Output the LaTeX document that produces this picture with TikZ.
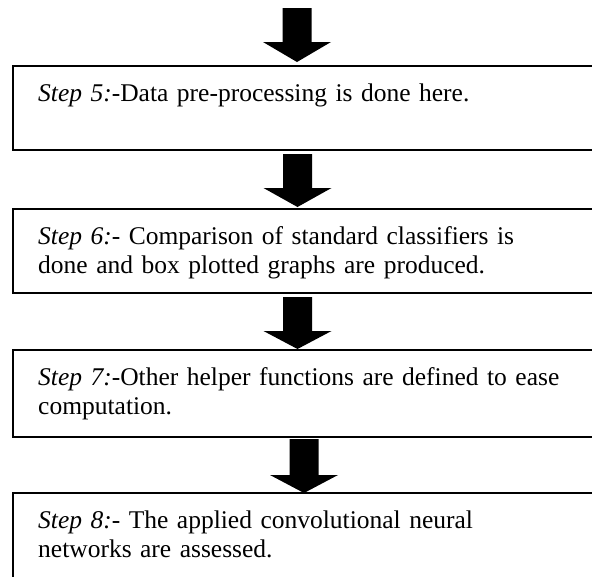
\documentclass[tikz,border=0pt]{standalone}
\usepackage{fontspec}
\setmainfont{Liberation Serif}
\begin{document}
\begin{tikzpicture}[x=1pt,y=-1pt,
  stepbox/.style={draw=black,line width=2.2pt},
  steptext/.style={anchor=base west,inner sep=0pt,text width=545pt,align=left,
    font=\fontsize{25.5}{29}\selectfont},
  blockarrow/.style={fill=black}]
\useasboundingbox (0,0) rectangle (592,576);
\clip (0,0) rectangle (592,576);
% boxes
\draw[stepbox] (13,66) rectangle (620,150) coordinate (b1);
\draw[stepbox] (13,209) rectangle (620,293);
\draw[stepbox] (13,350) rectangle (620,437);
\draw[stepbox] (13,493) rectangle (620,620);
% texts
\node[steptext] (t5) at (38,101) {\textit{Step 5:}-Data pre-processing is done here.};
\node[steptext] (t6) at (38,244) {\textit{Step 6:}- Comparison of standard classifiers is\\done and box plotted graphs are produced.};
\node[steptext] (t7) at (38,385) {\textit{Step 7:}-Other helper functions are defined to ease\\computation.};
\node[steptext] (t8) at (38,528) {\textit{Step 8:}- The applied convolutional neural\\networks are assessed.};
% block arrows
\newcommand{\blockarr}[4]{% center x, shaft top, head start, tip
  \fill[blockarrow] (#1-14.5,#2) -- (#1+14.5,#2) -- (#1+14.5,#3) -- (#1+34,#3)
    -- (#1,#4) -- (#1-34,#3) -- (#1-14.5,#3) -- cycle;}
\blockarr{297}{8}{42}{62}
\blockarr{297.5}{154}{188}{207}
\blockarr{297.5}{297}{331}{349}
\blockarr{304}{439}{475}{493}
\end{tikzpicture}
\end{document}
